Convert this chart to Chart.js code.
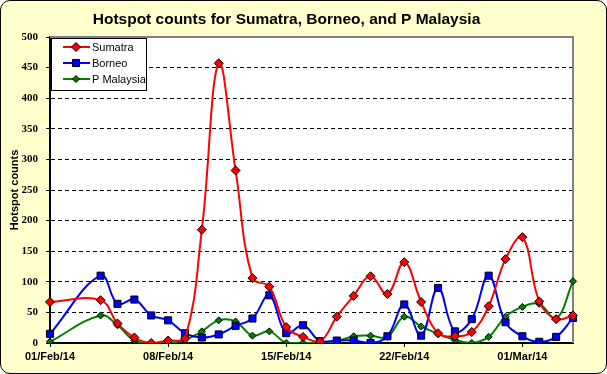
<!DOCTYPE html>
<html>
<head>
<meta charset="utf-8">
<script src="https://cdn.jsdelivr.net/npm/chart.js@4"></script>
<style>
  html, body { margin: 0; padding: 0; background: #fff; }
  #bg { position: absolute; left: 0; top: 0; width: 605px; height: 372px;
        border: 1px solid #000; border-radius: 10px; background: #FFFFCC; }
  #wrap { position: absolute; left: 0; top: 0; width: 607px; height: 374px; }
</style>
</head>
<body>
<div id="bg"></div>
<div id="wrap"><canvas id="chart" width="607" height="374"></canvas></div>
<script>
const dates = ['01/Feb/14','02/Feb/14','03/Feb/14','04/Feb/14','05/Feb/14','06/Feb/14','07/Feb/14',
  '08/Feb/14','09/Feb/14','10/Feb/14','11/Feb/14','12/Feb/14','13/Feb/14','14/Feb/14',
  '15/Feb/14','16/Feb/14','17/Feb/14','18/Feb/14','19/Feb/14','20/Feb/14','21/Feb/14',
  '22/Feb/14','23/Feb/14','24/Feb/14','25/Feb/14','26/Feb/14','27/Feb/14','28/Feb/14',
  '01/Mar/14','02/Mar/14','03/Mar/14','04/Mar/14'];

const sumatra  = [67, null, null, 70, 32, 9, 0, 4, 7, 185, 457, 282, 106, 92, 26, 10, 2, 43, 77, 109, 80, 132, 67, 16, 11, 18, 60, 137, 173, 68, 39, 45];
const borneo   = [15, null, null, 110, 64, 71, 45, 37, 16, 9, 14, 28, 40, 78, 16, 29, 3, 4, 4, 0, 11, 63, 12, 90, 19, 39, 110, 34, 11, 2, 10, 41];
const malaysia = [2, null, null, 45, 29, 4, 0, 0, 5, 19, 37, 35, 12, 19, 0, 0, 0, 3, 11, 12, 10, 43, 27, 15, 5, 0, 10, 43, 59, 64, 40, 101];

const labelEvery = 7;

function marker(ctx, style, r, x, y, fill) {
  ctx.save();
  ctx.fillStyle = fill;
  ctx.strokeStyle = '#000';
  ctx.lineWidth = 1;
  ctx.beginPath();
  if (style === 'rect') {
    const s = r * Math.SQRT1_2;
    ctx.rect(x - s, y - s, 2 * s, 2 * s);
  } else {
    ctx.moveTo(x, y - r); ctx.lineTo(x + r, y); ctx.lineTo(x, y + r); ctx.lineTo(x - r, y); ctx.closePath();
  }
  ctx.fill(); ctx.stroke();
  ctx.restore();
}

const plotFrame = {
  id: 'plotFrame',
  beforeDraw(chart) {
    const { ctx, chartArea: a } = chart;
    ctx.save();
    ctx.fillStyle = '#fff';
    ctx.fillRect(a.left, a.top, a.right - a.left, a.bottom - a.top);
    ctx.restore();
  },
  beforeDatasetsDraw(chart) {
    const { ctx, chartArea: a } = chart;
    ctx.save();
    ctx.strokeStyle = '#808080';
    ctx.lineWidth = 2;
    ctx.beginPath();
    ctx.moveTo(a.left, a.top);
    ctx.lineTo(a.right, a.top);
    ctx.lineTo(a.right, a.bottom);
    ctx.stroke();
    ctx.restore();
  },
  afterDatasetsDraw(chart) {
    // legend box in the top-left corner of the plot
    const { ctx, chartArea: a } = chart;
    const x = a.left + 1, y = a.top + 1;
    ctx.save();
    ctx.fillStyle = '#fff';
    ctx.fillRect(x, y, 95, 52);
    ctx.strokeStyle = '#000';
    ctx.lineWidth = 1;
    ctx.strokeRect(x + 0.5, y + 0.5, 95, 52);
    ctx.font = '11px "Liberation Sans", Arial, sans-serif';
    ctx.textBaseline = 'middle';
    chart.data.datasets.forEach((ds, i) => {
      const cy = y + 9 + i * 16;
      ctx.strokeStyle = ds.borderColor;
      ctx.lineWidth = 2;
      ctx.beginPath();
      ctx.moveTo(x + 12, cy); ctx.lineTo(x + 39, cy);
      ctx.stroke();
      marker(ctx, ds.pointStyle, ds.pointRadius, x + 25, cy, ds.pointBackgroundColor);
      ctx.fillStyle = '#000';
      ctx.fillText(ds.label, x + 41, cy + 1);
    });
    ctx.restore();
  }
};

new Chart(document.getElementById('chart'), {
  type: 'line',
  data: {
    labels: dates,
    datasets: [
      { label: 'Sumatra', data: sumatra, borderColor: '#FF0000', pointBackgroundColor: '#FF0000',
        pointStyle: 'rectRot', pointRadius: 4.5 },
      { label: 'Borneo', data: borneo, borderColor: '#0000FF', pointBackgroundColor: '#0000FF',
        pointStyle: 'rect', pointRadius: 5 },
      { label: 'P Malaysia', data: malaysia, borderColor: '#008000', pointBackgroundColor: '#008000',
        pointStyle: 'rectRot', pointRadius: 3.5 }
    ].map(d => Object.assign({
      borderWidth: 2, tension: 0.4, spanGaps: true, fill: false,
      pointBorderColor: '#000', pointBorderWidth: 1
    }, d))
  },
  options: {
    responsive: false,
    animation: false,
    devicePixelRatio: 1,
    layout: { padding: { left: 0, right: 34, top: 0, bottom: 0 } },
    plugins: {
      legend: { display: false },
      tooltip: { enabled: false },
      title: {
        display: true,
        text: 'Hotspot counts for Sumatra, Borneo, and P Malaysia',
        color: '#000',
        font: { family: '"Liberation Sans", Arial, sans-serif', size: 15.5, weight: 'bold', lineHeight: 1.2 },
        padding: { top: 10, bottom: 8.4 }
      }
    },
    scales: {
      x: {
        afterFit(s) { s.height = 31; },
        grid: {
          drawOnChartArea: false,
          tickLength: 4,
          tickColor: c => (c.index % labelEvery === 0 ? '#000' : 'rgba(0,0,0,0)')
        },
        border: { color: '#000', width: 2 },
        ticks: {
          autoSkip: false, maxRotation: 0, padding: 3, color: '#000',
          font: { family: '"Liberation Sans", Arial, sans-serif', size: 11, weight: 'bold' },
          callback: (v, i) => (i % labelEvery === 0 ? dates[i] : '')
        }
      },
      y: {
        min: 0, max: 500,
        afterFit(s) { s.width = 50; },
        grid: {
          color: c => (c.tick && (c.tick.value === 0 || c.tick.value === 500) ? 'rgba(0,0,0,0)' : '#000'),
          lineWidth: 1,
          tickLength: 4,
          tickColor: '#000'
        },
        border: { color: '#000', width: 2, dash: [4, 3] },
        ticks: {
          stepSize: 50, padding: 8, color: '#000',
          font: { family: '"Liberation Serif", "Times New Roman", serif', size: 11, weight: 'bold' }
        },
        title: {
          display: true, text: 'Hotspot counts', color: '#000',
          font: { family: '"Liberation Sans", Arial, sans-serif', size: 11, weight: 'bold' },
          padding: { top: 8, bottom: 0 }
        }
      }
    }
  },
  plugins: [plotFrame]
});
</script>
</body>
</html>
